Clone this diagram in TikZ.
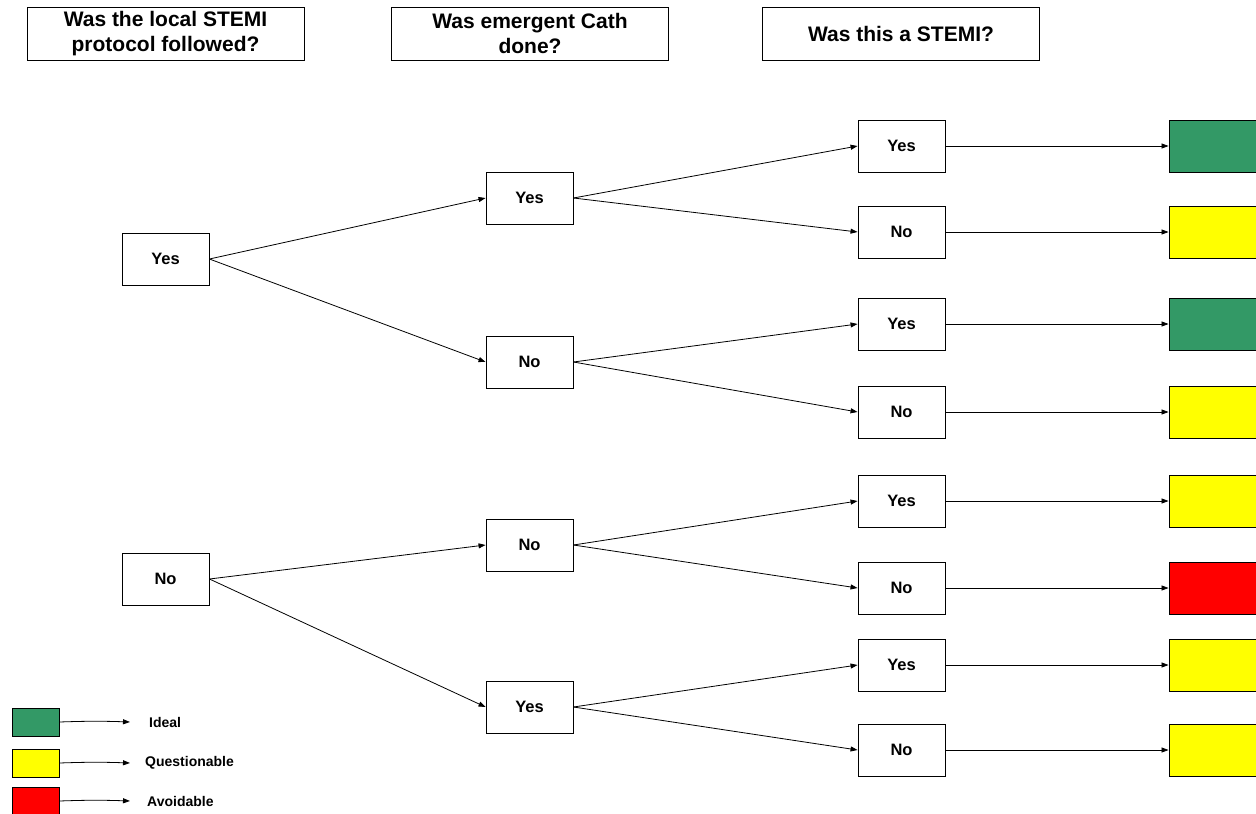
\documentclass[tikz,border=0pt]{standalone}
\usepackage{fontspec}
\setmainfont{Liberation Sans}
\usetikzlibrary{arrows.meta}
\definecolor{okgreen}{HTML}{339966}
\definecolor{qyellow}{HTML}{FFFF00}
\definecolor{avred}{HTML}{FF0000}
\begin{document}
\begin{tikzpicture}[x=1pt,y=-1pt,
 box/.style={draw, line width=0.9pt, minimum width=87pt, minimum height=52pt, inner sep=0pt, font=\fontsize{16.5}{19}\selectfont\bfseries},
 hdr/.style={draw, line width=0.9pt, minimum width=277pt, minimum height=53pt, inner sep=0pt, align=center, font=\fontsize{21}{25.5}\selectfont\bfseries},
 res/.style={draw, line width=0.9pt, minimum width=87pt, minimum height=52pt, inner sep=0pt},
 arr/.style={-{Triangle[length=7pt,width=5pt]}, line width=0.8pt},
 leg/.style={draw, line width=0.9pt, minimum width=47pt, minimum height=28pt, inner sep=0pt},
 legt/.style={anchor=west, inner sep=0pt, font=\fontsize{14}{16}\selectfont\bfseries}]
\useasboundingbox (0,0) rectangle (1256,814);
\fill[white] (0,0) rectangle (1256,814);
% headers
\node[hdr] (h1) at (165.5,33.5) {Was the local STEMI\\protocol followed?};
\node[hdr] (h2) at (530,33.5) {Was emergent Cath\\done?};
\node[hdr] (h3) at (901,33.5) {Was this a STEMI?};
% level 1
\node[box] (a1) at (165.5,259) {Yes};
\node[box] (a2) at (165.5,579) {No};
% level 2
\node[box] (b1) at (529.5,198) {Yes};
\node[box] (b2) at (529.5,362) {No};
\node[box] (b3) at (529.5,545) {No};
\node[box] (b4) at (529.5,707) {Yes};
% level 3
\node[box] (c1) at (901.5,146) {Yes};
\node[box] (c2) at (901.5,232) {No};
\node[box] (c3) at (901.5,324) {Yes};
\node[box] (c4) at (901.5,412) {No};
\node[box] (c5) at (901.5,501) {Yes};
\node[box] (c6) at (901.5,588) {No};
\node[box] (c7) at (901.5,665) {Yes};
\node[box] (c8) at (901.5,750) {No};
% results
\node[res, fill=okgreen] (r1) at (1212.5,146) {};
\node[res, fill=qyellow] (r2) at (1212.5,232) {};
\node[res, fill=okgreen] (r3) at (1212.5,324) {};
\node[res, fill=qyellow] (r4) at (1212.5,412) {};
\node[res, fill=qyellow] (r5) at (1212.5,501) {};
\node[res, fill=avred] (r6) at (1212.5,588) {};
\node[res, fill=qyellow] (r7) at (1212.5,665) {};
\node[res, fill=qyellow] (r8) at (1212.5,750) {};
% connectors
\draw[arr] (a1.east) -- (b1.west);
\draw[arr] (a1.east) -- (b2.west);
\draw[arr] (a2.east) -- (b3.west);
\draw[arr] (a2.east) -- (b4.west);
\draw[arr] (b1.east) -- (c1.west);
\draw[arr] (b1.east) -- (c2.west);
\draw[arr] (b2.east) -- (c3.west);
\draw[arr] (b2.east) -- (c4.west);
\draw[arr] (b3.east) -- (c5.west);
\draw[arr] (b3.east) -- (c6.west);
\draw[arr] (b4.east) -- (c7.west);
\draw[arr] (b4.east) -- (c8.west);
\foreach \i in {1,...,8} {\draw[arr] (c\i.east) -- (r\i.west);}
% legend
\node[leg, fill=okgreen] (lg) at (35.5,722) {};
\node[leg, fill=qyellow] (ly) at (35.5,763) {};
\node[leg, fill=avred] (lr) at (35.5,801) {};
\node[legt] (tg) at (149,722) {Ideal};
\node[legt] (ty) at (145,763) {Questionable};
\node[legt] (tr) at (147,801) {Avoidable};
\draw[arr] (lg.east) to[bend left=2] ([xshift=-19pt]tg.west);
\draw[arr] (ly.east) to[bend left=2] ([xshift=-15pt]ty.west);
\draw[arr] (lr.east) to[bend left=2] ([xshift=-17pt]tr.west);
\end{tikzpicture}
\end{document}
